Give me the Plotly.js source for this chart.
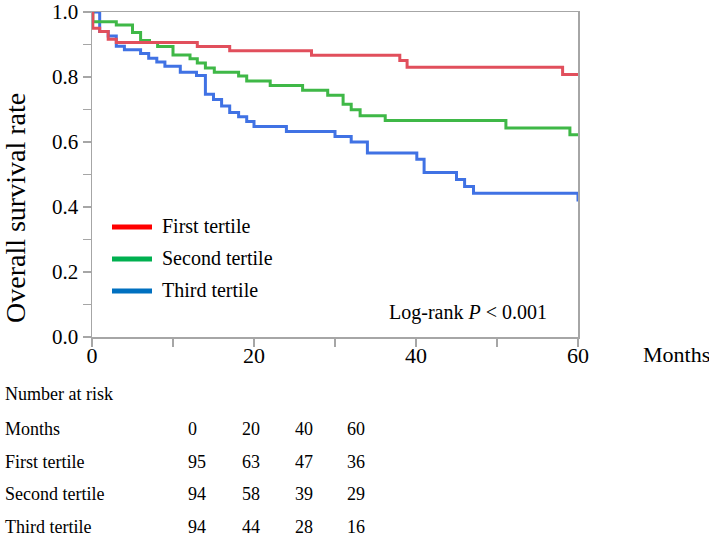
<!DOCTYPE html>
<html>
<head>
<meta charset="utf-8">
<script src="https://cdn.plot.ly/plotly-3.0.1.min.js"></script>
<style>
html,body{margin:0;padding:0;background:#fff;}
#chart{width:709px;height:538px;}
</style>
</head>
<body>
<div id="chart"></div>
<script>
// ---- Data ----
const firstMonths  = [0, 0.1, 0.95, 2.0, 3.0, 13.0, 17.0, 27.1, 38.0, 38.9, 58.1, 60];
const firstSurv    = [1.0, 0.950, 0.940, 0.916, 0.906, 0.894, 0.881, 0.867, 0.851, 0.830, 0.808, 0.808];

const secondMonths = [0, 0.1, 3.0, 5.0, 6.0, 7.1, 8.1, 10.0, 12.1, 13.0, 14.0, 15.1, 18.1, 19.1, 22.0, 26.0, 29.1, 31.0, 32.0, 33.1, 36.2, 51.1, 59.0, 60];
const secondSurv   = [1.0, 0.970, 0.960, 0.937, 0.912, 0.906, 0.894, 0.868, 0.856, 0.843, 0.828, 0.815, 0.803, 0.788, 0.774, 0.759, 0.744, 0.716, 0.699, 0.681, 0.666, 0.643, 0.622, 0.622];

const thirdMonths  = [0, 0.95, 2.0, 3.0, 4.0, 6.0, 7.0, 8.0, 9.0, 10.9, 12.9, 14.0, 15.0, 16.0, 17.0, 18.1, 19.1, 20.0, 24.0, 30.0, 32.0, 34.0, 40.1, 41.0, 45.0, 46.0, 47.1, 60, 60];
const thirdSurv    = [1.0, 0.940, 0.926, 0.895, 0.884, 0.872, 0.858, 0.846, 0.833, 0.815, 0.805, 0.747, 0.731, 0.711, 0.691, 0.678, 0.663, 0.648, 0.632, 0.617, 0.600, 0.566, 0.547, 0.506, 0.485, 0.463, 0.442, 0.442, 0.417];

const groupNames   = ["First tertile", "Second tertile", "Third tertile"];
const riskMonths   = [0, 20, 40, 60];
const riskFirst    = [95, 63, 47, 36];
const riskSecond   = [94, 58, 39, 29];
const riskThird    = [94, 44, 28, 16];

const xTickVals = [0, 20, 40, 60];
const yTickVals = [0, 0.2, 0.4, 0.6, 0.8, 1.0];

// ---- Styling ----
const lineColors   = ["#e14f5c", "#3fb847", "#4072e4"];
const legendColors = ["#ff0000", "#00b050", "#0070c0"];
const FONT = "Liberation Serif";
const axisGray = "#a6a6a6";

const W = 709, H = 538;
const L = 92, R = 578, T = 12, B = 337;
const px = v => (v - L) / (R - L);
const py = v => (B - v) / (B - T);

const traces = [
  {x: firstMonths,  y: firstSurv,  name: groupNames[0]},
  {x: secondMonths, y: secondSurv, name: groupNames[1]},
  {x: thirdMonths,  y: thirdSurv,  name: groupNames[2]}
].map((t, i) => Object.assign(t, {
  type: "scatter", mode: "lines",
  line: {shape: "hv", color: lineColors[i], width: 3},
  showlegend: false, hoverinfo: "skip"
}));
traces.reverse();

const annotations = [];
const shapes = [];

// Legend (custom)
const legY = [227, 259, 291];
groupNames.forEach((g, i) => {
  shapes.push({type: "line", xref: "paper", yref: "paper",
    x0: px(112), x1: px(152), y0: py(legY[i]), y1: py(legY[i]),
    line: {color: legendColors[i], width: 5}});
  annotations.push({xref: "paper", yref: "paper", x: px(160), y: py(legY[i] - 1),
    xanchor: "left", yanchor: "middle", showarrow: false, text: g,
    font: {family: FONT, size: 20, color: "#000"}});
});

// Log-rank
annotations.push({xref: "paper", yref: "paper", x: px(468), y: py(312),
  xanchor: "center", yanchor: "middle", showarrow: false,
  text: "Log-rank <i>P</i> &lt; 0.001", font: {family: FONT, size: 20, color: "#000"}});

// Y title
annotations.push({xref: "paper", yref: "paper", x: px(15), y: py(208),
  xanchor: "center", yanchor: "middle", showarrow: false, textangle: -90, borderpad: 0,
  text: "Overall survival rate", font: {family: FONT, size: 28, color: "#000"}});

// Months label next to x axis
annotations.push({xref: "paper", yref: "paper", x: px(641), y: py(354),
  xanchor: "left", yanchor: "middle", showarrow: false,
  text: "Months", font: {family: FONT, size: 22, color: "#000"}});

// Number at risk table
const tblFont = {family: FONT, size: 18, color: "#000"};
const rowY = [429, 462, 494, 527];
const colX = [186, 240, 293, 345];
annotations.push({xref: "paper", yref: "paper", x: px(3), y: py(394), xanchor: "left", yanchor: "middle",
  showarrow: false, text: "Number at risk", font: tblFont});
const rowLabels = ["Months"].concat(groupNames);
const rowVals = [riskMonths, riskFirst, riskSecond, riskThird];
rowLabels.forEach((lab, r) => {
  annotations.push({xref: "paper", yref: "paper", x: px(3), y: py(rowY[r]), xanchor: "left", yanchor: "middle",
    showarrow: false, text: lab, font: tblFont});
  rowVals[r].forEach((v, c) => {
    annotations.push({xref: "paper", yref: "paper", x: px(colX[c]), y: py(rowY[r]), xanchor: "left", yanchor: "middle",
      showarrow: false, text: String(v), font: tblFont});
  });
});

const layout = {
  width: W, height: H,
  margin: {l: L, r: W - R, t: T, b: H - B, pad: 0},
  paper_bgcolor: "#fff", plot_bgcolor: "#fff",
  showlegend: false,
  xaxis: {
    range: [0, 60], tickvals: xTickVals, ticktext: xTickVals.map(String),
    showgrid: false, zeroline: false,
    showline: true, linecolor: axisGray, linewidth: 1.5, mirror: true,
    ticks: "outside", ticklen: 8, tickcolor: axisGray, tickwidth: 1.5,
    minor: {dtick: 10, tick0: 0, ticks: "outside", ticklen: 8, tickcolor: axisGray, tickwidth: 1.5, showgrid: false},
    tickfont: {family: FONT, size: 22, color: "#000"},
    ticklabelstandoff: -10, ticklabeloverflow: "allow"
  },
  yaxis: {
    range: [0, 1.0], tickvals: yTickVals, ticktext: yTickVals.map(v => v.toFixed(1)),
    showgrid: false, zeroline: false,
    showline: true, linecolor: axisGray, linewidth: 1.5, mirror: true,
    ticks: "outside", ticklen: 8, tickcolor: axisGray, tickwidth: 1.5,
    minor: {dtick: 0.1, tick0: 0, ticks: "outside", ticklen: 8, tickcolor: axisGray, tickwidth: 1.5, showgrid: false},
    tickfont: {family: FONT, size: 21, color: "#000"},
    ticklabeloverflow: "allow"
  },
  shapes: shapes,
  annotations: annotations
};

Plotly.newPlot("chart", traces, layout, {displayModeBar: false, staticPlot: true});
</script>
</body>
</html>
